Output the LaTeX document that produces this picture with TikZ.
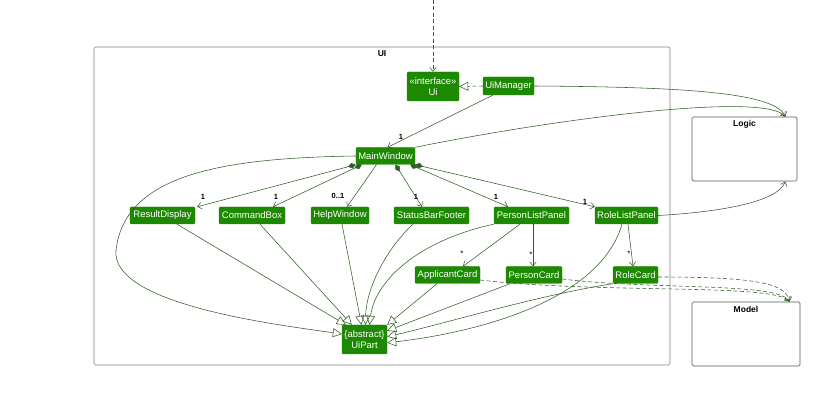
\documentclass[tikz,border=0pt]{standalone}
\usepackage{fontspec}
\setmainfont{Liberation Sans}
\usetikzlibrary{arrows.meta}
\definecolor{uig}{HTML}{1D8900}
\definecolor{edgec}{HTML}{2F5E25}
\begin{document}
\begin{tikzpicture}[x=1pt,y=-1pt,
  cls/.style={fill=uig, draw=uig, rounded corners=1.2pt, text=white,
    font=\fontsize{9.5}{11.5}\selectfont, inner sep=0pt, minimum height=17pt, align=center},
  pkg/.style={draw=black!50, line width=0.7pt, rounded corners=1.5pt, inner sep=0pt},
  comp2/.style={draw=black!65, line width=0.7pt, rounded corners=1.5pt, inner sep=0pt},
  ttl/.style={font=\bfseries\fontsize{8.5}{10}\selectfont, inner sep=0pt},
  mult/.style={font=\bfseries\fontsize{7.5}{8}\selectfont, inner sep=0pt},
  star/.style={font=\fontsize{8}{8}\selectfont, inner sep=0pt},
  assoc/.style={draw=edgec, line width=0.55pt, -{Straight Barb[length=4pt,width=6.5pt]}},
  depend/.style={assoc, dash pattern=on 4pt off 2.5pt},
  comp/.style={draw=edgec, line width=0.55pt, {Diamond[length=8pt,width=5.5pt,fill=edgec]}-{Straight Barb[length=4pt,width=6.5pt]}},
  inh/.style={draw=edgec, line width=0.55pt, -{Triangle[open,length=9pt,width=9pt]}},
  real/.style={inh, dash pattern=on 4pt off 2.5pt}
]
\useasboundingbox (0,0) rectangle (836,419);

% packages
\node[pkg, minimum width=576pt, minimum height=318pt] (uipkg) at (382,206) {};
\node[ttl] (uititle) at (382,54) {UI};
\node[comp2, minimum width=105pt, minimum height=64pt] (logic) at (744.5,149) {};
\node[ttl] (logictitle) at (744.5,124) {Logic};
\node[comp2, minimum width=108pt, minimum height=64pt] (model) at (746,334) {};
\node[ttl] (modeltitle) at (746,309) {Model};

% classes
\node[cls, minimum width=52pt, minimum height=29pt] (ui) at (433,86.5) {«interface»\\Ui};
\node[cls, minimum width=51pt, minimum height=18pt] (uim) at (508.5,86) {UiManager};
\node[cls, minimum width=59pt] (mw) at (385.5,156) {MainWindow};
\node[cls, minimum width=65pt] (rd) at (162.5,215.5) {ResultDisplay};
\node[cls, minimum width=66pt] (cb) at (252,215.5) {CommandBox};
\node[cls, minimum width=58pt] (hw) at (340,215.5) {HelpWindow};
\node[cls, minimum width=75pt] (sbf) at (431.5,215.5) {StatusBarFooter};
\node[cls, minimum width=75pt] (plp) at (531.5,215.5) {PersonListPanel};
\node[cls, minimum width=63pt] (rlp) at (626.5,215.5) {RoleListPanel};
\node[cls, minimum width=65pt] (ac) at (447.5,275) {ApplicantCard};
\node[cls, minimum width=56pt] (pc) at (534,275) {PersonCard};
\node[cls, minimum width=45pt] (rc) at (635.5,275) {RoleCard};
\node[cls, minimum width=45pt, minimum height=29pt] (up) at (364.5,339.5) {\{abstract\}\\UiPart};

\coordinate (src) at (433,0);

% top
\draw[depend] (src) -- (ui.north);
\draw[real] (uim.west) -- (ui.east);
\draw[assoc] ([xshift=10pt]uim.south west) -- ([xshift=2pt]mw.north);
\node[mult] (m0) at (401,137) {1};

% to Logic
\draw[assoc] (uim.east) .. controls (680,87) and (775,92) .. ([xshift=-12pt]logic.north east);
\draw[assoc] (mw.north east) .. controls (560,118) and (765,92) .. ([xshift=-12pt]logic.north east);
\draw[assoc] (rlp.east) .. controls (720,212) and (778,202) .. ([xshift=-12pt]logic.south east);

% compositions
\draw[comp] (mw.south west) -- ([xshift=2pt]rd.north east);
\node[mult] (m1) at (203,197) {1};
\draw[comp] ([xshift=6pt]mw.south west) -- ([xshift=21pt]cb.north);
\node[mult] (m2) at (276,197) {1};
\draw[assoc] ([xshift=-9pt]mw.south) -- ([xshift=7pt]hw.north);
\node[mult] (m3) at (338,196) {0..1};
\draw[comp] ([xshift=10pt]mw.south) -- ([xshift=-9.5pt]sbf.north);
\node[mult] (m4) at (416,197) {1};
\draw[comp] ([xshift=-5pt]mw.south east) -- ([xshift=-23.5pt]plp.north);
\node[mult] (m5) at (496,197) {1};
\draw[comp] (mw.south east) -- (rlp.north west);
\node[mult] (m6) at (585,202) {1};

% panels to cards
\draw[assoc] ([xshift=-11.5pt]plp.south) -- ([xshift=15.5pt]ac.north);
\node[star] (s1) at (462,254) {*};
\draw[assoc] ([xshift=1.5pt]plp.south) -- ([xshift=-1pt]pc.north);
\node[star] (s2) at (531,255) {*};
\draw[assoc] ([xshift=1.5pt]rlp.south) -- ([xshift=-2.5pt]rc.north);
\node[star] (s3) at (629,254) {*};

% inheritance to UiPart
\draw[inh] ([xshift=14.5pt]rd.south) -- ([xshift=4pt]up.north west);
\draw[inh] ([xshift=8pt]cb.south) -- ([xshift=10pt]up.north west);
\draw[inh] ([xshift=2pt]hw.south) -- ([xshift=-3pt]up.north);
\draw[inh] ([xshift=-18.5pt]sbf.south) .. controls (385,250) and (366,290) .. ([xshift=1pt]up.north);
\draw[inh] (plp.south west) .. controls (420,240) and (375,280) .. ([xshift=5pt]up.north);
\draw[inh] ([xshift=-10.5pt]ac.south) -- (up.north east);
\draw[inh] ([xshift=-24pt]pc.south) -- ([yshift=-6pt]up.north east);
\draw[inh] (rc.south west) .. controls (540,295) and (450,322) .. ([yshift=-12pt]up.north east);
\draw[inh] ([xshift=-4.5pt]rlp.south) .. controls (600,300) and (480,332) .. ([yshift=-18pt]up.north east);
\draw[inh] (mw.west) .. controls (220,158) and (125,175) .. (116,250) .. controls (110,305) and (280,325) .. ([yshift=5.5pt]up.west);

% dependencies to Model
\draw[depend] ([yshift=-2pt]rc.east) .. controls (760,277) and (786,284) .. ([xshift=-11pt]model.north east);
\draw[depend] ([yshift=-4pt]pc.east) .. controls (650,290) and (780,282) .. ([xshift=-11pt]model.north east);
\draw[depend] ([yshift=-5pt]ac.east) .. controls (600,294) and (775,283) .. ([xshift=-11pt]model.north east);
\end{tikzpicture}
\end{document}
